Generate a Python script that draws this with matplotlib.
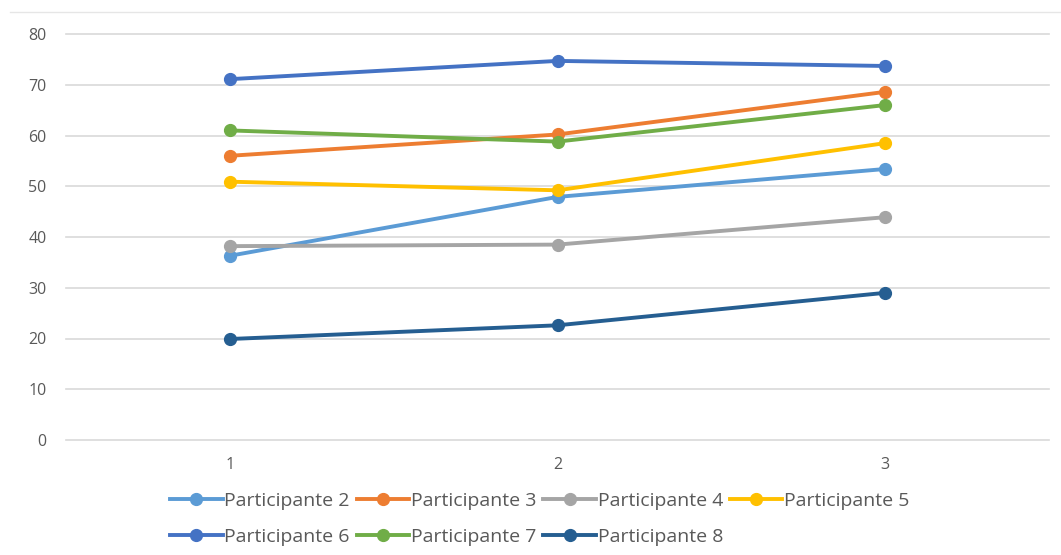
import matplotlib.pyplot as plt
from matplotlib.lines import Line2D

# sessions on x axis
sessions = ['1', '2', '3']

p2 = [36.3, 47.9, 53.4]
p3 = [56.0, 60.2, 68.6]
p4 = [38.2, 38.5, 43.9]
p5 = [50.9, 49.2, 58.5]
p6 = [71.1, 74.7, 73.7]
p7 = [61.0, 58.8, 66.0]
p8 = [19.9, 22.6, 29.0]

series = [
    ('Participante 2', p2, '#5B9BD5'),
    ('Participante 3', p3, '#ED7D31'),
    ('Participante 4', p4, '#A5A5A5'),
    ('Participante 5', p5, '#FFC000'),
    ('Participante 6', p6, '#4472C4'),
    ('Participante 7', p7, '#70AD47'),
    ('Participante 8', p8, '#255E91'),
]

plt.rcParams['font.family'] = ['Open Sans', 'DejaVu Sans']

fig = plt.figure(figsize=(10.61, 5.55), dpi=100)
ax = fig.add_axes([66 / 1061, 1 - 440 / 555, (1049 - 66) / 1061, (440 - 34) / 555])

x = range(len(sessions))
handles = []
for label, vals, color in series:
    h, = ax.plot(x, vals, color=color, linewidth=2.8, marker='o', markersize=8.5,
                 label=label, zorder=3)
    handles.append(h)

ax.set_xlim(-0.5, 2.5)
ax.set_ylim(0, 80)
ax.set_yticks(range(0, 81, 10))
ax.set_xticks(list(x))
ax.set_xticklabels(sessions)
ax.grid(True, axis='y', color='#D9D9D9', linewidth=1.2)
for gl in ax.get_ygridlines():
    gl.set_clip_on(False)
ax.set_axisbelow(True)
for s in ax.spines.values():
    s.set_visible(False)
ax.tick_params(length=0, labelsize=11.5, labelcolor='#595959', pad=12)
ax.tick_params(axis='y', pad=14)

# faint frame line at the top
fig.add_artist(Line2D([10 / 1061, 1], [1 - 12 / 555, 1 - 12 / 555],
                      color='#E6E6E6', linewidth=1, transform=fig.transFigure))

# legend: rows P2..P5 then P6..P8 (matplotlib fills column-wise)
order = [0, 4, 1, 5, 2, 6, 3]
leg = fig.legend([handles[i] for i in order], [series[i][0] for i in order],
                 ncol=4, loc='upper left', bbox_to_anchor=(170 / 1061, 1 - 492 / 555),
                 frameon=False, fontsize=14, handlelength=2.7, handletextpad=0.1,
                 columnspacing=0.35, labelspacing=0.9, borderaxespad=0, borderpad=0)
for t in leg.get_texts():
    t.set_color('#595959')

fig.savefig('out.png', dpi=100)
